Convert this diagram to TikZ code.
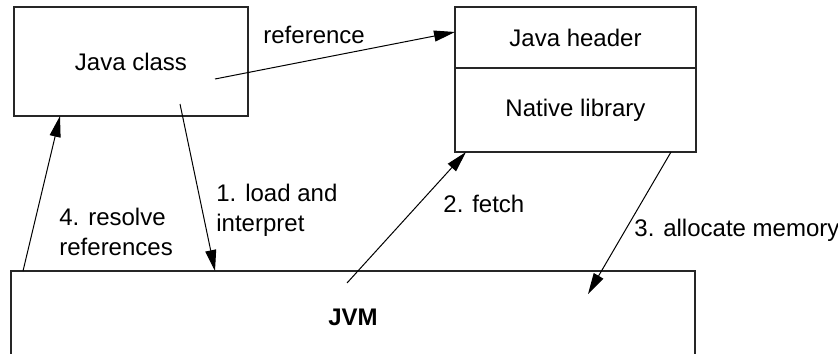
\documentclass[tikz,border=0pt]{standalone}
\usepackage{fontspec}
\setmainfont{Liberation Sans}
\usetikzlibrary{arrows.meta}
\begin{document}
\begin{tikzpicture}[x=0.5pt,y=-0.5pt,
  box/.style={draw=black!85,line width=0.6pt,inner sep=0pt,font=\fontsize{12}{14.8}\selectfont},
  lbl/.style={inner sep=0pt,anchor=base west,align=left,font=\fontsize{12}{15}\selectfont},
  conn/.style={line width=0.5pt,-{Triangle[length=10.5pt,width=5.5pt]}}]
\useasboundingbox (0,0) rectangle (838,353);
\clip (0,0) rectangle (838,353);
% boxes
\node[box,minimum width=117pt,minimum height=54.5pt] (jc) at (131,61.5) {Java class};
\node[box,minimum width=120.5pt,minimum height=30.5pt] (jh) at (575.5,37.5) {Java header};
\node[box,minimum width=120.5pt,minimum height=42pt] (nl) at (575.5,110) {Native library};
\node[box,minimum width=342pt,minimum height=46pt,font=\fontsize{12}{14.8}\selectfont\bfseries] (jvm) at (353,317) {JVM};
% connector end points
\coordinate (refS) at (215,79);
\coordinate (refE) at (455,32);
\coordinate (loadS) at (180,104);
\coordinate (loadE) at (215,271);
\coordinate (resS) at (23,271);
\coordinate (resE) at (60,116);
\coordinate (fetS) at (347,283);
\coordinate (fetE) at (466,152);
\coordinate (allS) at (671,152);
\coordinate (allE) at (588,294);
% connectors
\draw[conn] (refS) -- (refE);
\draw[conn] (loadS) -- (loadE);
\draw[conn] (resS) -- (resE);
\draw[conn] (fetS) -- (fetE);
\draw[conn] (allS) -- (allE);
% labels
\node[lbl] (lref) at (263,44) {reference};
\node[lbl] (lload) at (216,231) {1. load and\\interpret};
\node[lbl] (lres) at (59,255) {4. resolve\\references};
\node[lbl] (lfet) at (443,212) {2. fetch};
\node[lbl] (lall) at (634,236) {3. allocate memory};
\end{tikzpicture}
\end{document}
